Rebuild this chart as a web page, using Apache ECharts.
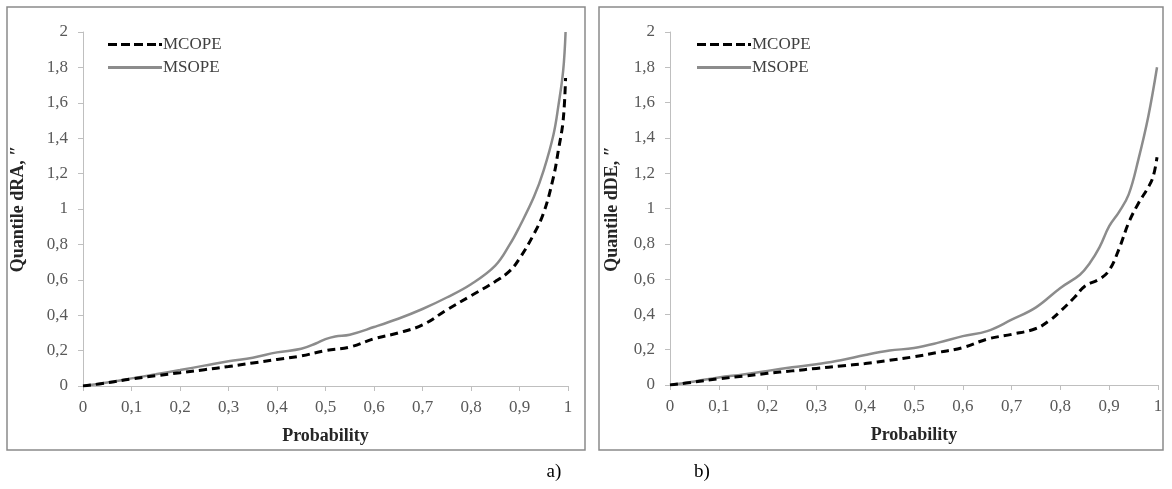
<!DOCTYPE html>
<html>
<head>
<meta charset="utf-8">
<script src="https://cdn.jsdelivr.net/npm/echarts@6/dist/echarts.min.js"></script>
<style>
html,body{margin:0;padding:0;background:#fff;}
#c{width:1172px;height:489px;}
</style>
</head>
<body>
<div id="c"></div>
<script>
// ---- Data ----
const seriesNames = ["MCOPE", "MSOPE"];
const yTitles = ["Quantile dRA, \u2033", "Quantile dDE, \u2033"];
const xTitle = "Probability";
const panelLabels = ["a)", "b)"];

// Panel a) dRA
const aMcopeX = [0,0.05,0.1,0.15,0.2,0.25,0.3,0.35,0.4,0.45,0.5,0.55,0.6,0.65,0.7,0.75,0.8,0.85,0.88,0.9,0.93,0.95,0.97,0.98,0.99,0.995];
const aMcopeY = [0,0.018,0.04,0.058,0.075,0.092,0.11,0.13,0.15,0.17,0.2,0.22,0.267,0.3,0.345,0.43,0.51,0.59,0.65,0.72,0.86,0.98,1.18,1.33,1.5,1.74];
const aMsopeX = [0,0.05,0.1,0.15,0.2,0.25,0.3,0.35,0.4,0.45,0.48,0.5,0.52,0.55,0.6,0.65,0.7,0.75,0.8,0.85,0.88,0.9,0.93,0.95,0.97,0.98,0.99,0.995];
const aMsopeY = [0,0.02,0.043,0.066,0.09,0.115,0.14,0.16,0.19,0.21,0.24,0.265,0.28,0.29,0.333,0.38,0.435,0.5,0.575,0.68,0.8,0.9,1.07,1.22,1.42,1.58,1.78,2.0];

// Panel b) dDE
const bMcopeX = [0,0.05,0.1,0.15,0.2,0.25,0.3,0.35,0.4,0.45,0.5,0.55,0.6,0.65,0.7,0.75,0.78,0.8,0.83,0.85,0.88,0.9,0.92,0.94,0.96,0.98,0.99,0.998];
const bMcopeY = [0,0.017,0.035,0.05,0.066,0.08,0.094,0.108,0.122,0.14,0.16,0.185,0.212,0.26,0.287,0.32,0.37,0.418,0.5,0.56,0.6,0.65,0.77,0.92,1.03,1.12,1.18,1.29];
const bMsopeX = [0,0.05,0.1,0.15,0.2,0.25,0.3,0.35,0.4,0.45,0.5,0.55,0.6,0.65,0.7,0.75,0.8,0.84,0.86,0.88,0.9,0.92,0.94,0.96,0.98,0.998];
const bMsopeY = [0,0.02,0.043,0.06,0.08,0.1,0.118,0.14,0.17,0.195,0.21,0.24,0.277,0.305,0.37,0.44,0.55,0.625,0.69,0.78,0.9,0.98,1.08,1.28,1.52,1.8];

// ---- Build ----
const pair = (xs, ys) => xs.map((x, i) => [x, ys[i]]);
const fmt = v => String(+(+v).toFixed(1)).replace('.', ',');
const serif = "'Liberation Serif','Times New Roman',serif";

const grids = [
  {left: 83, top: 32, width: 485, height: 354},
  {left: 670, top: 32, width: 488, height: 353}
];

function xAx(i){
  return {
    type:'value', gridIndex:i, min:0, max:1, interval:0.1,
    name: xTitle, nameLocation:'middle', nameGap:41,
    nameTextStyle:{fontFamily:serif, fontWeight:'bold', fontSize:18, color:'#262626'},
    axisLine:{show:true, lineStyle:{color:'#bfbfbf', width:1}},
    axisTick:{show:true, length:5, lineStyle:{color:'#bfbfbf'}},
    axisLabel:{fontFamily:serif, fontSize:17, color:'#595959', margin:13, formatter:fmt},
    splitLine:{show:false}
  };
}
function yAx(i){
  return {
    type:'value', gridIndex:i, min:0, max:2, interval:0.2,
    axisLine:{show:true, lineStyle:{color:'#bfbfbf', width:1}},
    axisTick:{show:true, length:5, lineStyle:{color:'#bfbfbf'}},
    axisLabel:{fontFamily:serif, fontSize:17, color:'#595959', margin:15, formatter:fmt},
    splitLine:{show:false}
  };
}
function mk(name, i, data){
  const dashed = name === 'MCOPE';
  return {
    name, type:'line', xAxisIndex:i, yAxisIndex:i, data,
    showSymbol:false, symbol:'none', smooth:0.4,
    lineStyle: dashed ? {color:'#000', width:3, type:[8,5]} : {color:'#8c8c8c', width:2.5},
    itemStyle:{color: dashed ? '#000' : '#8c8c8c'},
    z: dashed ? 3 : 2
  };
}
const dashIcon = 'path://M0,0h9v3h-9z M13,0h9v3h-9z M26,0h9v3h-9z M39,0h9v3h-9z M51,0h3v3h-3z';
function legend(left){
  return {
    left, top:31, orient:'vertical', itemGap:6, itemWidth:54, itemHeight:3,
    selectedMode:false,
    itemStyle:{borderWidth:0},
    textStyle:{fontFamily:serif, fontSize:17, lineHeight:17, color:'#404040', padding:[0,0,0,-4]},
    data: [
      {name: seriesNames[0], icon: dashIcon},
      {name: seriesNames[1], icon: 'rect'}
    ]
  };
}

const chart = echarts.init(document.getElementById('c'), null, {renderer:'canvas'});
chart.setOption({
  backgroundColor:'#fff',
  animation:false,
  grid: grids,
  xAxis:[xAx(0), xAx(1)],
  yAxis:[yAx(0), yAx(1)],
  legend:[legend(103), legend(692)],
  series:[
    mk('MCOPE', 0, pair(aMcopeX, aMcopeY)),
    mk('MSOPE', 0, pair(aMsopeX, aMsopeY)),
    mk('MCOPE', 1, pair(bMcopeX, bMcopeY)),
    mk('MSOPE', 1, pair(bMsopeX, bMsopeY))
  ],
  graphic:[
    {type:'rect', shape:{x:7, y:7, width:578, height:443}, style:{fill:'none', stroke:'#8a8a8a', lineWidth:1.5}, silent:true, z:-1},
    {type:'rect', shape:{x:599, y:7, width:564, height:443}, style:{fill:'none', stroke:'#8a8a8a', lineWidth:1.5}, silent:true, z:-1},
    {type:'text', x:18, y:209, rotation:Math.PI/2, style:{text:yTitles[0], fontFamily:serif, fontWeight:'bold', fontSize:18, fill:'#262626', align:'center', verticalAlign:'middle'}},
    {type:'text', x:612, y:209, rotation:Math.PI/2, style:{text:yTitles[1], fontFamily:serif, fontWeight:'bold', fontSize:18, fill:'#262626', align:'center', verticalAlign:'middle'}},
    {type:'text', x:554, y:472, style:{text:panelLabels[0], fontFamily:serif, fontSize:19, fill:'#000', align:'center', verticalAlign:'middle'}},
    {type:'text', x:702, y:472, style:{text:panelLabels[1], fontFamily:serif, fontSize:19, fill:'#000', align:'center', verticalAlign:'middle'}}
  ]
});
</script>
</body>
</html>
